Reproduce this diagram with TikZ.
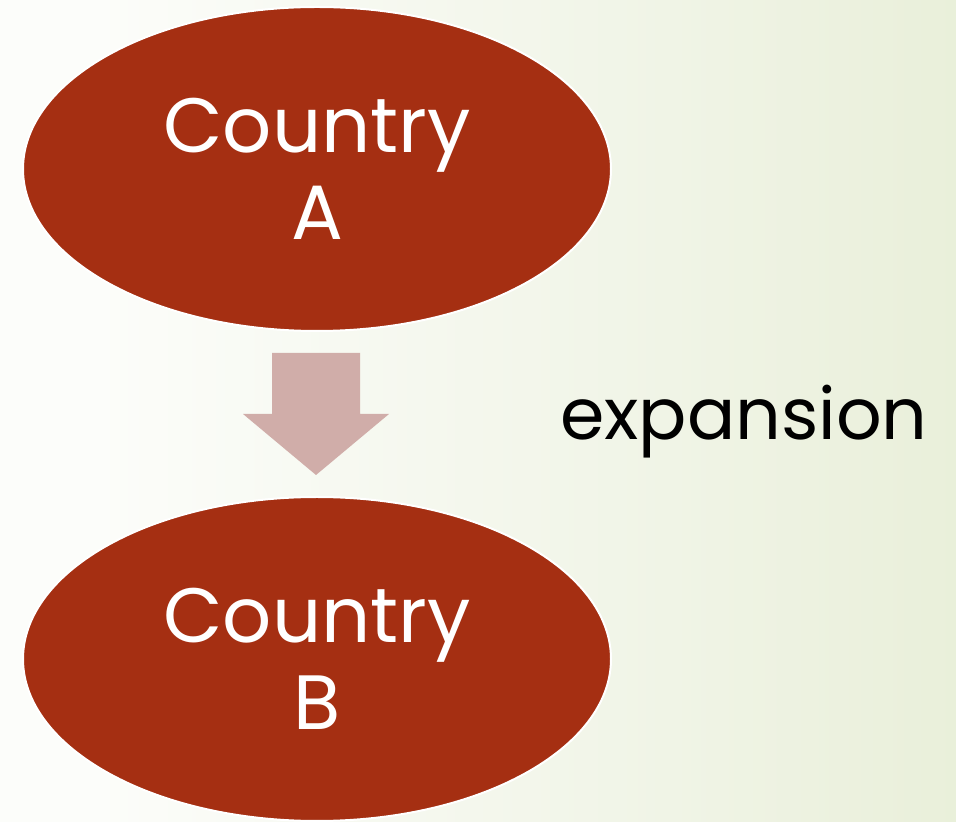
\documentclass[tikz,border=0pt]{standalone}
\usepackage{fontspec}
\setmainfont{Poppins}
\usetikzlibrary{shapes.geometric}
\definecolor{rust}{RGB}{165,47,18}
\definecolor{arrowpink}{RGB}{208,173,169}
\definecolor{paleleft}{RGB}{252,253,250}
\definecolor{palemid}{RGB}{240,244,230}
\definecolor{paleright}{RGB}{222,232,198}
\pgfdeclarehorizontalshading{slidebg}{100bp}{
  color(0bp)=(paleleft); color(30bp)=(paleleft); color(60bp)=(palemid);
  color(100bp)=(paleright)}
\tikzset{
  country/.style={ellipse, fill=rust, draw=white, line width=2pt,
    minimum width=588pt, minimum height=324pt, inner sep=0pt,
    text=white, align=center, font=\fontsize{77}{87}\selectfont},
  blockarrow/.style={fill=arrowpink, draw=none},
  label/.style={font=\fontsize{71.5}{86}\selectfont, text=black, inner sep=0pt, anchor=base west}
}
\begin{document}
\begin{tikzpicture}[x=1pt,y=1pt]
  % background with soft left-to-right gradient
  \shade[shading=slidebg] (0,0) rectangle (956,822);
  \useasboundingbox (0,0) rectangle (956,822);

  \node[country] (ca) at (317,653) {Country\\A};
  \node[country] (cb) at (317,163) {Country\\B};

  % downward block arrow between the two ellipses
  \coordinate (s1) at (272,469);
  \coordinate (s2) at (360,469);
  \coordinate (s3) at (360,408);
  \coordinate (h1) at (389,408);
  \coordinate (tip) at (316,347);
  \coordinate (h2) at (243,408);
  \coordinate (s4) at (272,408);
  \fill[blockarrow] (s1) -- (s2) -- (s3) -- (h1) -- (tip) -- (h2) -- (s4) -- cycle;

  \node[label] (exp) at (560,382) {expansion};
\end{tikzpicture}
\end{document}
